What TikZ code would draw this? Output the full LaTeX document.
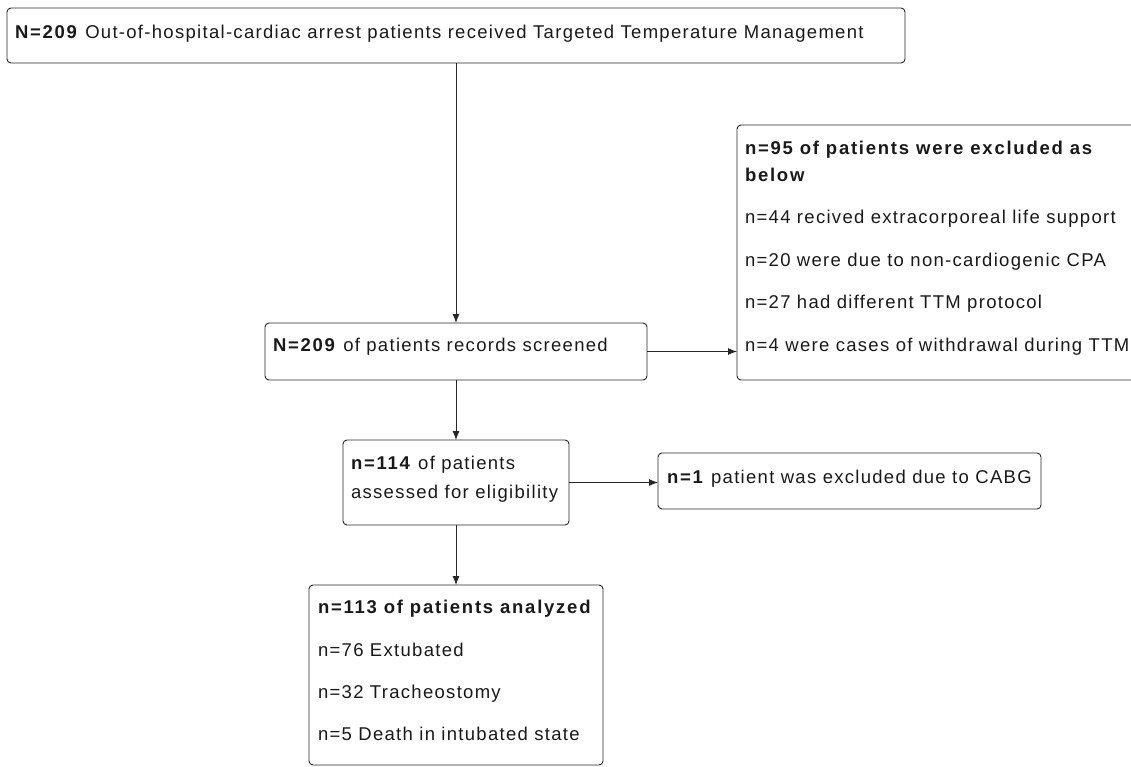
\documentclass[tikz,border=0pt]{standalone}
\usepackage{fontspec}
\setmainfont{Liberation Sans}[LetterSpace=7, BoldFeatures={LetterSpace=9.5}]
\usetikzlibrary{arrows.meta}
\begin{document}
\begin{tikzpicture}[x=1pt,y=-1pt,
  every node/.style={font=\fontsize{18.5}{21}\selectfont},
  box/.style={draw=black!85, line width=0.9pt, rounded corners=4pt, inner sep=0pt, outer sep=0pt},
  txt/.style={anchor=base west, inner sep=0pt, outer sep=0pt, text=black!90},
  arr/.style={draw=black!85, line width=0.9pt, -{Latex[length=9pt,width=7pt]}}]
\useasboundingbox (0,0) rectangle (1131,767);
% boxes
\node[box, minimum width=898pt, minimum height=55pt] (top) at (456,35.5) {};
\node[box, minimum width=408pt, minimum height=255pt] (excl) at (941,252.5) {};
\node[box, minimum width=382pt, minimum height=57pt] (scr) at (456,351.5) {};
\node[box, minimum width=226pt, minimum height=85pt] (elig) at (456,482.5) {};
\node[box, minimum width=383pt, minimum height=56pt] (cabg) at (849.5,481) {};
\node[box, minimum width=294pt, minimum height=180pt] (ana) at (456,675) {};
% texts
\node[txt] (t1) at (15,38.5) {\textbf{N=209} Out-of-hospital-cardiac arrest patients received Targeted Temperature Management};
\node[txt] (e0) at (745,154.5) {\textbf{n=95 of patients were excluded as}};
\node[txt] (e0b) at (745,181.5) {\textbf{below}};
\node[txt] (e1) at (745,223.5) {n=44 recived extracorporeal life support};
\node[txt] (e2) at (745,266.5) {n=20 were due to non-cardiogenic CPA};
\node[txt] (e3) at (745,308.5) {n=27 had different TTM protocol};
\node[txt] (e4) at (745,351.5) {n=4 were cases of withdrawal during TTM};
\node[txt] (s1) at (273,351.5) {\textbf{N=209} of patients records screened};
\node[txt] (g1) at (351,469.5) {\textbf{n=114} of patients};
\node[txt] (g2) at (351,498.5) {assessed for eligibility};
\node[txt] (c1) at (667,483.5) {\textbf{n=1} patient was excluded due to CABG};
\node[txt] (a0) at (318,613.5) {\textbf{n=113 of patients analyzed}};
\node[txt] (a1) at (318,656.5) {n=76 Extubated};
\node[txt] (a2) at (318,698.5) {n=32 Tracheostomy};
\node[txt] (a3) at (318,740.5) {n=5 Death in intubated state};
% arrows
\draw[arr] (top.south) -- (scr.north);
\draw[arr] (scr.east) -- (scr.east -| excl.west);
\draw[arr] (scr.south) -- (elig.north);
\draw[arr] (elig.east) -- (elig.east -| cabg.west);
\draw[arr] (elig.south) -- (ana.north);
\end{tikzpicture}
\end{document}
